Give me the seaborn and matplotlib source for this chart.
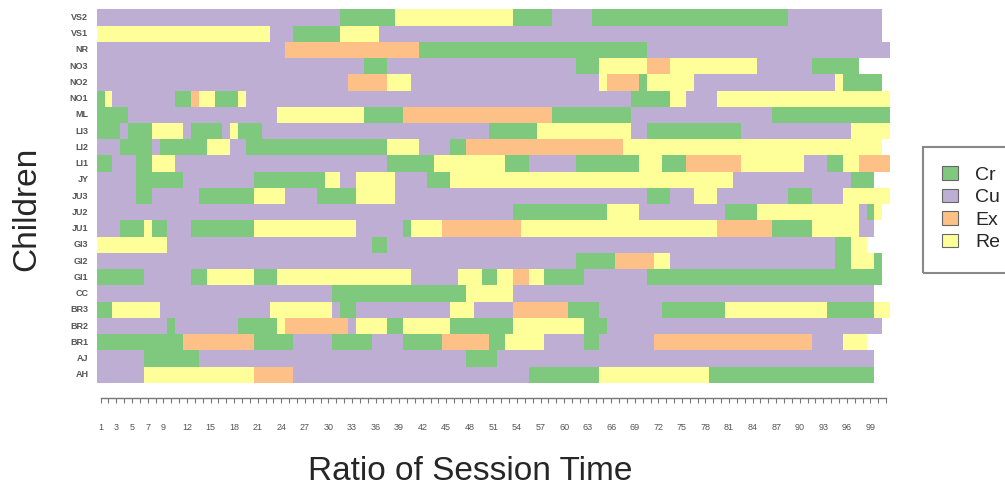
import numpy as np
import pandas as pd
import matplotlib
matplotlib.use("Agg")
import matplotlib.pyplot as plt
from matplotlib.colors import ListedColormap
from matplotlib.patches import Patch, Rectangle
import seaborn as sns

sns.set_style("white")
plt.rcParams['font.family'] = ['Liberation Sans', 'DejaVu Sans']

# categorias e cores (paleta Accent)
categorias = ["Cr", "Cu", "Ex", "Re"]
cores = ["#7fc97f", "#beaed4", "#fdc086", "#ffff99"]

# criancas, de cima para baixo
criancas = ["VS2", "VS1", "NR", "NO3", "NO2", "NO1", "ML", "LI3", "LI2", "LI1",
            "JY", "JU3", "JU2", "JU1", "GI3", "GI2", "GI1", "CC", "BR3", "BR2",
            "BR1", "AJ", "AH"]

# cada sequencia: (categoria, ultima coluna do trecho)
VS2 = [("Cu", 31), ("Cr", 38), ("Re", 53), ("Cr", 58), ("Cu", 63), ("Cr", 88), ("Cu", 100)]
VS1 = [("Re", 22), ("Cu", 25), ("Cr", 31), ("Re", 36), ("Cu", 100)]
NR = [("Cu", 24), ("Ex", 41), ("Cr", 70), ("Cu", 101)]
NO3 = [("Cu", 34), ("Cr", 37), ("Cu", 61), ("Cr", 64), ("Re", 70), ("Ex", 73), ("Re", 84),
       ("Cu", 91), ("Cr", 97)]
NO2 = [("Cu", 32), ("Ex", 37), ("Re", 40), ("Cu", 64), ("Re", 65), ("Ex", 69), ("Cr", 70),
       ("Re", 76), ("Cu", 94), ("Re", 95), ("Cr", 100)]
NO1 = [("Cr", 1), ("Re", 2), ("Cu", 10), ("Cr", 12), ("Ex", 13), ("Re", 15), ("Cr", 18),
       ("Re", 19), ("Cu", 68), ("Cr", 73), ("Re", 75), ("Cu", 79), ("Re", 101)]
ML = [("Cr", 4), ("Cu", 23), ("Re", 34), ("Cr", 39), ("Ex", 58), ("Cr", 68), ("Cu", 86), ("Cr", 101)]
LI3 = [("Cr", 3), ("Cu", 4), ("Cr", 7), ("Re", 11), ("Cu", 12), ("Cr", 16), ("Cu", 17), ("Re", 18),
       ("Cr", 21), ("Cu", 50), ("Cr", 56), ("Re", 68), ("Cu", 70), ("Cr", 82), ("Cu", 96), ("Re", 101)]
LI2 = [("Cu", 3), ("Cr", 7), ("Cu", 8), ("Cr", 14), ("Re", 17), ("Cu", 19), ("Cr", 37), ("Re", 41),
       ("Cu", 45), ("Cr", 47), ("Ex", 67), ("Re", 100)]
LI1 = [("Cr", 2), ("Cu", 5), ("Cr", 7), ("Re", 10), ("Cu", 37), ("Cr", 43), ("Re", 52), ("Cr", 55),
       ("Cu", 61), ("Cr", 69), ("Re", 72), ("Cr", 75), ("Ex", 82), ("Re", 90), ("Cu", 93), ("Cr", 95),
       ("Re", 97), ("Ex", 101)]
JY = [("Cu", 5), ("Cr", 11), ("Cu", 20), ("Cr", 29), ("Re", 31), ("Cu", 33), ("Re", 38), ("Cu", 42),
      ("Cr", 45), ("Re", 81), ("Cu", 96), ("Cr", 99)]
JU3 = [("Cu", 5), ("Cr", 7), ("Cu", 13), ("Cr", 20), ("Re", 24), ("Cu", 28), ("Cr", 33), ("Re", 38),
       ("Cu", 70), ("Cr", 73), ("Cu", 76), ("Re", 79), ("Cu", 88), ("Cr", 91), ("Cu", 95), ("Re", 101)]
JU2 = [("Cu", 53), ("Cr", 65), ("Re", 69), ("Cu", 80), ("Cr", 84), ("Re", 97), ("Cu", 98), ("Cr", 99),
       ("Re", 100)]
JU1 = [("Cu", 3), ("Cr", 6), ("Re", 7), ("Cr", 9), ("Cu", 12), ("Cr", 20), ("Re", 33), ("Cu", 39),
       ("Cr", 40), ("Re", 44), ("Ex", 54), ("Re", 79), ("Ex", 86), ("Cr", 91), ("Re", 97), ("Cu", 99)]
GI3 = [("Re", 9), ("Cu", 35), ("Cr", 37), ("Cu", 94), ("Cr", 96), ("Re", 98)]
GI2 = [("Cu", 61), ("Cr", 66), ("Ex", 71), ("Re", 73), ("Cu", 94), ("Cr", 96), ("Re", 99), ("Cr", 100)]
GI1 = [("Cr", 6), ("Cu", 12), ("Cr", 14), ("Re", 20), ("Cr", 23), ("Re", 40), ("Cu", 46), ("Re", 49),
       ("Cr", 51), ("Re", 53), ("Ex", 55), ("Re", 57), ("Cr", 62), ("Cu", 70), ("Cr", 100)]
CC = [("Cu", 30), ("Cr", 47), ("Re", 53), ("Cu", 99)]
BR3 = [("Cr", 2), ("Re", 8), ("Cu", 22), ("Re", 30), ("Cu", 31), ("Cr", 33), ("Cu", 45), ("Re", 48),
       ("Cu", 53), ("Ex", 60), ("Cr", 64), ("Cu", 72), ("Cr", 80), ("Re", 93), ("Cr", 99), ("Re", 101)]
BR2 = [("Cu", 9), ("Cr", 10), ("Cu", 18), ("Cr", 23), ("Re", 24), ("Ex", 32), ("Cu", 33), ("Re", 37),
       ("Cr", 39), ("Re", 45), ("Cr", 53), ("Re", 62), ("Cr", 65), ("Cu", 100)]
BR1 = [("Cr", 11), ("Ex", 20), ("Cr", 25), ("Cu", 30), ("Cr", 35), ("Cu", 39), ("Cr", 44), ("Ex", 50),
       ("Cr", 52), ("Re", 57), ("Cu", 62), ("Cr", 64), ("Cu", 71), ("Ex", 91), ("Cu", 95), ("Re", 98)]
AJ = [("Cu", 6), ("Cr", 13), ("Cu", 47), ("Cr", 51), ("Cu", 99)]
AH = [("Cu", 6), ("Re", 20), ("Ex", 25), ("Cu", 55), ("Cr", 64), ("Re", 78), ("Cr", 99)]

sequencias = [VS2, VS1, NR, NO3, NO2, NO1, ML, LI3, LI2, LI1, JY, JU3, JU2, JU1,
              GI3, GI2, GI1, CC, BR3, BR2, BR1, AJ, AH]

# rotulos do eixo x (os que aparecem)
rotulos_x = [1, 3, 5, 7, 9, 12, 15, 18, 21, 24, 27, 30, 33, 36, 39, 42, 45, 48, 51, 54,
             57, 60, 63, 66, 69, 72, 75, 78, 81, 84, 87, 90, 93, 96, 99]
n_colunas = 101

# monta a matriz (NaN = sem registro)
matriz = np.full((len(criancas), n_colunas), np.nan)
for i, seq in enumerate(sequencias):
    inicio = 0
    for cat, fim in seq:
        matriz[i, inicio:fim] = categorias.index(cat)
        inicio = fim
df = pd.DataFrame(matriz, index=criancas, columns=range(1, n_colunas + 1))

W, H = 1005, 491
fig = plt.figure(figsize=(W / 100, H / 100), dpi=100)
ax = fig.add_axes([96.7 / W, 1 - 382.9 / H, (890.1 - 96.7) / W, (382.9 - 9.3) / H])

sns.heatmap(df, cmap=ListedColormap(cores), vmin=-0.5, vmax=3.5, cbar=False, ax=ax,
            yticklabels=criancas)

# eixo y
ax.tick_params(axis="y", length=0, pad=6)
ax.set_yticks(np.arange(len(criancas)) + 0.5)
ax.set_yticklabels(criancas, rotation=0, fontsize=6.5, color="#555555", fontweight="bold")

# eixo x estilo R, deslocado para baixo
ax.tick_params(axis="x", bottom=True, direction="out", length=3.6, width=0.8,
               color="#777777", pad=14, labelsize=6.5, labelcolor="#555555")
ax.set_xticks(np.arange(n_colunas) + 0.5)
ax.set_xticklabels([str(c) if c in rotulos_x else "" for c in range(1, n_colunas + 1)],
                   rotation=0, fontsize=6.5, color="#555555", fontweight="bold")
ax.spines["bottom"].set_visible(True)
ax.spines["bottom"].set_position(("outward", 11))
ax.spines["bottom"].set_bounds(0.5, n_colunas - 0.5)
ax.spines["bottom"].set_color("#777777")
ax.spines["bottom"].set_linewidth(1.0)
ax.set_xlabel("")
ax.set_ylabel("")

fig.text(470 / W, 1 - 472 / H, "Ratio of Session Time", fontsize=24, ha="center", va="center")
fig.text(27 / W, 1 - 209 / H, "Children", fontsize=24, rotation=90, ha="center", va="center")

# legenda: caixa desenhada a parte, passando da borda da figura como no original
handles = [Patch(facecolor=c, edgecolor="#666666", linewidth=0.8) for c in cores]
fig.legend(handles, categorias, loc="upper left",
           bbox_to_anchor=(922.7 / W, 1 - 146.7 / H), borderaxespad=0,
           frameon=False, fontsize=14,
           handlelength=0.8, handleheight=0.7, handletextpad=0.9,
           labelspacing=0.25, borderpad=1.0)
fig.patches.append(Rectangle((922.7 / W, 1 - 272.7 / H), 130 / W, 126 / H,
                             transform=fig.transFigure, fill=False,
                             edgecolor="#888888", linewidth=1.5))

plt.savefig("out.png", dpi=100)
print("ok")
